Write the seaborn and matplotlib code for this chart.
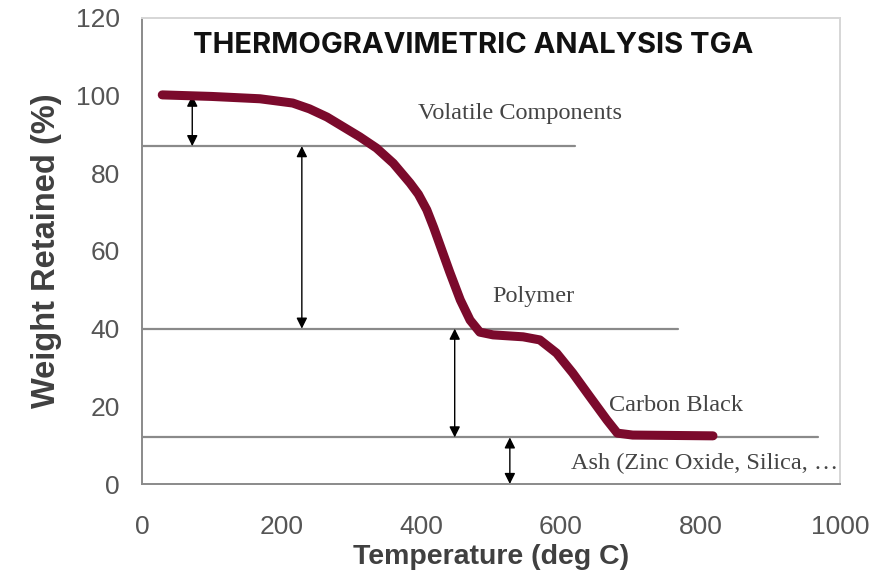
import matplotlib
matplotlib.use("Agg")
import matplotlib.pyplot as plt
import seaborn as sns
import pandas as pd

# TGA curve
temperature = [29, 100, 169, 216, 240, 265, 312, 336, 360, 384, 396, 408, 418, 427, 441, 456, 470, 484,
               503, 546, 570, 594, 617, 642, 666, 681, 703, 760, 818]
weight = [100.2, 99.8, 99.2, 98.1, 96.6, 94.5, 89.4, 86.5, 82.6, 77.5, 74.6, 70.6, 66.0, 61.5, 54.5, 47.4,
          42.2, 39.1, 38.4, 37.9, 37.1, 33.7, 28.6, 22.4, 16.5, 13.1, 12.6, 12.5, 12.4]

# step levels and where each reference line stops
levels = [87, 40, 12]
level_ends = [620, 768, 968]

# double arrows: x, low, high
arrow_x = [72, 229, 448, 527]
arrow_low = [87, 40, 12, 0]
arrow_high = [100, 87, 40, 12]

labels = ["Volatile Components", "Polymer", "Carbon Black", "Ash (Zinc Oxide, Silica, \u2026"]
label_x = [541, 560, 765, 806]
label_y = [95.5, 48.2, 20.3, 5.4]

x_ticks = [0, 200, 400, 600, 800, 1000]
y_ticks = [0, 20, 40, 60, 80, 100, 120]

df = pd.DataFrame({"temp": temperature, "weight": weight})

sns.set_style("white")
plt.rcParams["font.family"] = ["Liberation Sans", "DejaVu Sans"]

fig = plt.figure(figsize=(8.9, 5.79), dpi=100)
ax = fig.add_axes([142 / 890, 95 / 579, 698 / 890, 466 / 579])

for lvl, end in zip(levels, level_ends):
    ax.plot([0, end], [lvl, lvl], color="#8a8a8a", lw=1.6, zorder=1)

for x, lo, hi in zip(arrow_x, arrow_low, arrow_high):
    ax.annotate("", xy=(x, lo), xytext=(x, hi),
                arrowprops=dict(arrowstyle="<|-|>", color="black", lw=1.0,
                                mutation_scale=16, shrinkA=0, shrinkB=0), zorder=2)

sns.lineplot(data=df, x="temp", y="weight", sort=False, color="#7b0a2c",
             lw=6.5, solid_capstyle="round", solid_joinstyle="round", ax=ax, zorder=3)

for txt, x, y in zip(labels, label_x, label_y):
    ax.text(x, y, txt, family="Liberation Serif", fontsize=17.5, color="#444444",
            ha="center", va="center")

ax.text(0.474, 0.94, "THERMOGRAVIMETRIC ANALYSIS TGA", transform=ax.transAxes,
        family=["Inter", "DejaVu Sans"], fontweight="bold", fontsize=21,
        color="#111111", ha="center", va="center")

ax.set_xlim(0, 1000)
ax.set_ylim(0, 120)
ax.set_xticks(x_ticks)
ax.set_yticks(y_ticks)
ax.tick_params(axis="both", labelsize=19, labelcolor="#555555", color="#8a8a8a",
               length=6, width=1.2, direction="out")
ax.tick_params(axis="x", pad=16)
ax.tick_params(axis="y", pad=10)
ax.set_xlabel("Temperature (deg C)", fontsize=20.5, fontweight="bold", color="#404040", labelpad=4)
ax.set_ylabel("Weight Retained (%)", fontsize=23.5, fontweight="bold", color="#404040", labelpad=10)

for side in ["left", "bottom"]:
    ax.spines[side].set_color("#8a8a8a")
    ax.spines[side].set_linewidth(1.4)
for side in ["top", "right"]:
    ax.spines[side].set_color("#d6d6d6")
    ax.spines[side].set_linewidth(1.4)

fig.savefig("out.png", dpi=100)
